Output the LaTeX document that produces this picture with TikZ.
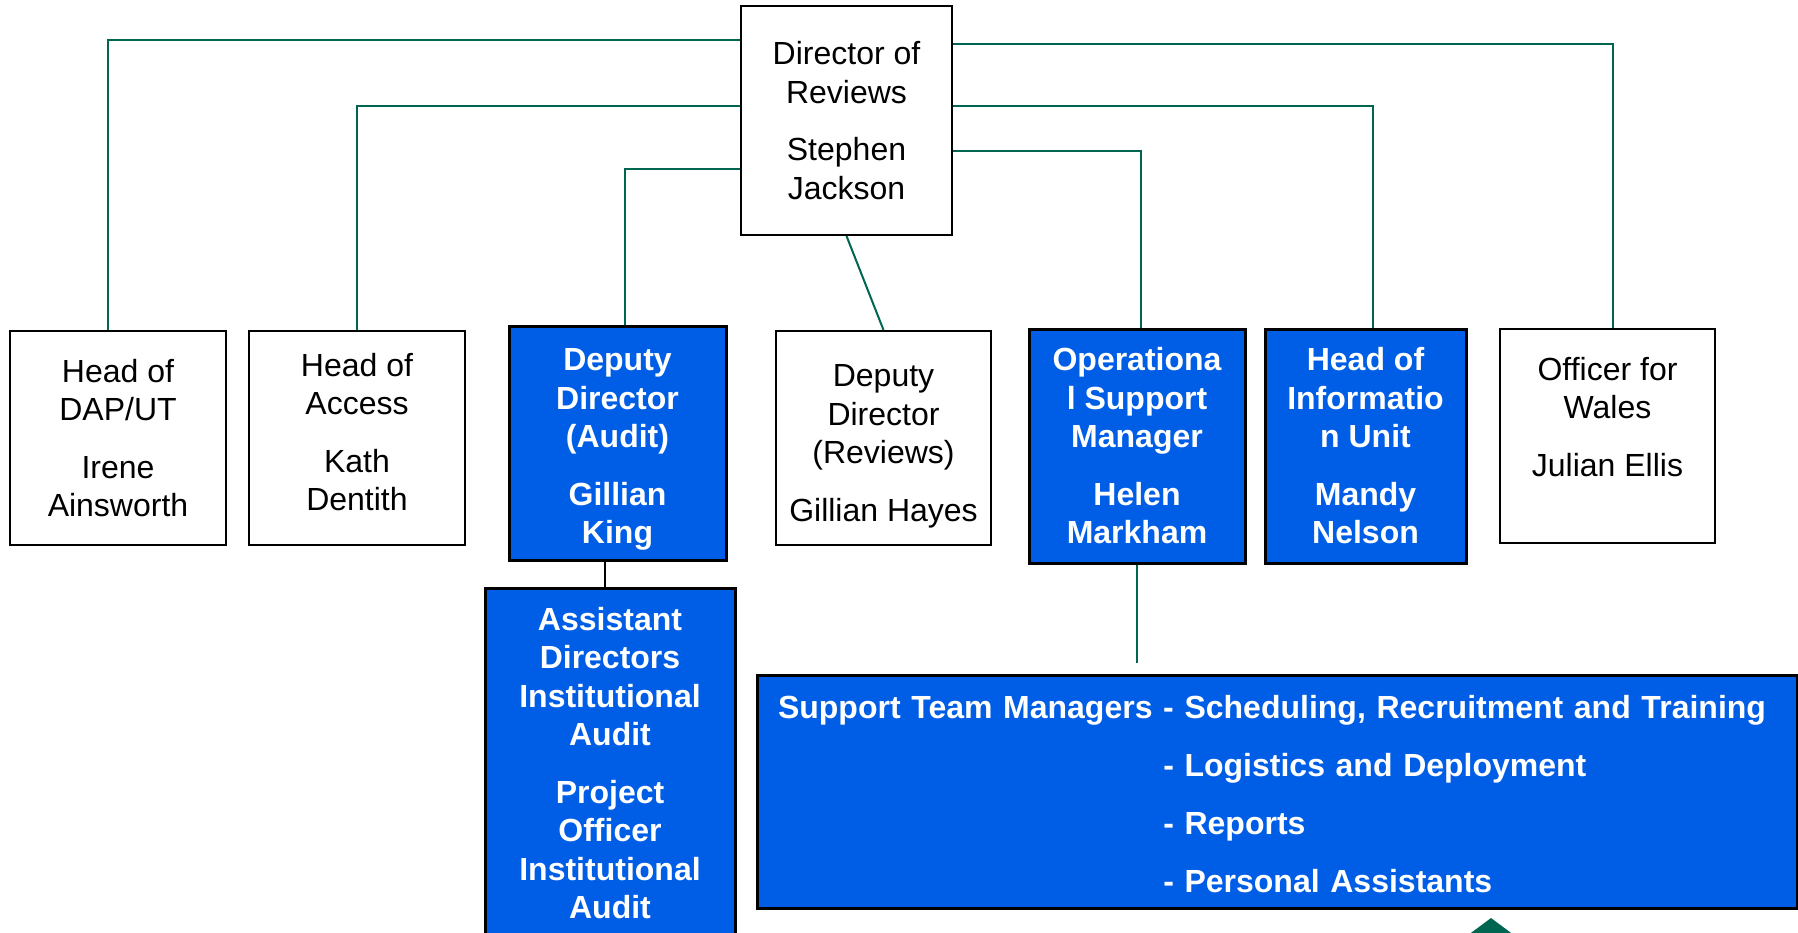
\documentclass[tikz,border=0pt]{standalone}
\usepackage{fontspec}
\setmainfont{Liberation Sans}
\usetikzlibrary{calc}
\definecolor{boxblue}{RGB}{0,94,230}
\definecolor{linkgreen}{RGB}{0,102,82}
\tikzstyle{post} = [rectangle, inner sep=0pt, align=center, draw=black, line width=2pt, fill=white, font=\fontsize{32}{38.5}\selectfont]
\tikzstyle{keypost} = [post, fill=boxblue, line width=3pt, text=white, font=\fontsize{32}{38.5}\selectfont\bfseries]
\tikzstyle{link} = [linkgreen, line width=2pt]

\begin{document}
\begin{tikzpicture}[x=1pt, y=-1pt]
\path [use as bounding box, clip] (0,0) rectangle (1798,933);

\node (dir) [post, minimum width=211pt, minimum height=229pt] at (846.5,120.5) {Director of\\Reviews\\[19pt]Stephen\\Jackson};

\node (dap) [post, minimum width=216pt, minimum height=214pt] at (118,438) {Head of\\DAP/UT\\[19pt]Irene\\Ainsworth};
\node (access) [post, minimum width=216pt, minimum height=214pt] at (357,438) {Head of\\Access\\[19pt]Kath\\Dentith\rule[-12pt]{0pt}{12pt}};
\node (audit) [keypost, minimum width=217pt, minimum height=234pt] at (617.5,443) {\rule{0pt}{35pt}Deputy\\Director\\(Audit)\\[19pt]Gillian\\King};
\node (reviews) [post, minimum width=215pt, minimum height=214pt] at (883.5,438) {\rule{0pt}{39pt}Deputy\\Director\\(Reviews)\\[19pt]Gillian Hayes};
\node (ops) [keypost, minimum width=216pt, minimum height=234pt] at (1137,446) {Operationa\\l Support\\Manager\\[19pt]Helen\\Markham};
\node (info) [keypost, minimum width=201pt, minimum height=234pt] at (1365.5,446) {Head of\\Informatio\\n Unit\\[19pt]Mandy\\Nelson};
\node (wales) [post, minimum width=215pt, minimum height=214pt] at (1607.5,436) {Officer for\\Wales\\[19pt]Julian Ellis\\ \mbox{}};

\node (assist) [keypost, minimum width=250pt, minimum height=350pt] at (610,763) {Assistant\\Directors\\Institutional\\Audit\\[19pt]Project\\Officer\\Institutional\\Audit};
\node (team) [keypost, minimum width=1040pt, minimum height=233pt, text width=998pt, align=left, font=\fontsize{32}{58}\selectfont\bfseries] at (1277,791.5) {\rule{0pt}{29pt}Support Team Managers - Scheduling, Recruitment and Training\\
 \hphantom{Support Team Managers }- Logistics and Deployment\\
 \hphantom{Support Team Managers }- Reports\\
 \hphantom{Support Team Managers }- Personal Assistants};

% lines out of the director's box
\draw [link] ($(dir.north west)+(0,35)$) -| ([xshift=-10pt]dap.north);
\draw [link] ($(dir.north west)+(0,101)$) -| (access.north);
\draw [link] ($(dir.north west)+(0,164)$) -| ([xshift=7pt]audit.north);
\draw [link] (dir.south) -- (reviews.north);
\draw [link] ($(dir.north east)+(0,146)$) -| ([xshift=4pt]ops.north);
\draw [link] ($(dir.north east)+(0,101)$) -| ([xshift=7pt]info.north);
\draw [link] ($(dir.north east)+(0,39)$) -| ([xshift=5pt]wales.north);

\draw [line width=2pt] ([xshift=-5pt]assist.north) -- ([xshift=-5pt]assist.north |- audit.south);
\draw [link, shorten >=11pt] (ops.south) -- (ops.south |- team.north);

\fill [linkgreen] (1491,918) -- (1448,950) -- (1534,950) -- cycle;

\end{tikzpicture}
\end{document}
